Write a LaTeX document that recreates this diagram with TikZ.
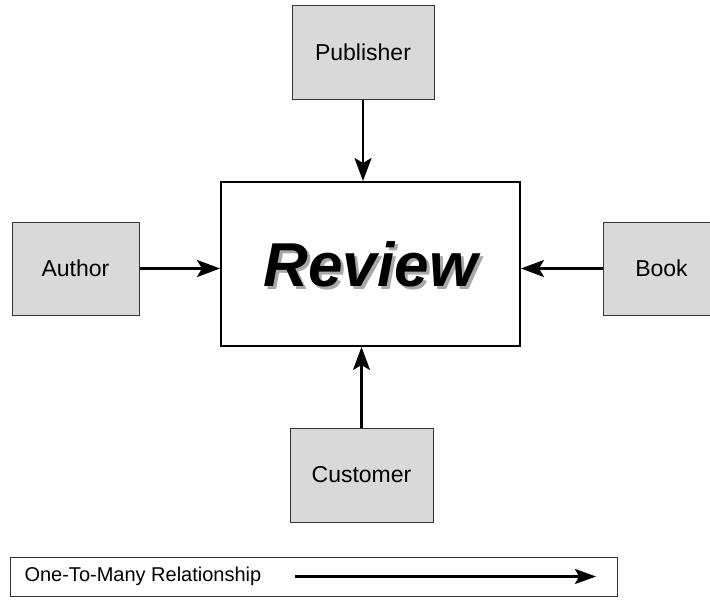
\documentclass[tikz,border=0pt]{standalone}
\usepackage{fontspec}
\setmainfont{Liberation Sans}
\usetikzlibrary{arrows.meta,positioning}
\definecolor{boxgray}{HTML}{D9D9D9}
\definecolor{shadowgray}{HTML}{A8A8A8}

\begin{document}
\begin{tikzpicture}[
  x=1pt, y=-1pt,
  entity/.style={draw=black!80, line width=1pt, fill=boxgray, font=\fontsize{23}{27}\selectfont},
  central/.style={draw, line width=2pt, fill=white, minimum width=299pt, minimum height=164pt},
  link/.style={line width=2.4pt, -{Stealth[length=23pt,width=17pt,inset=5pt]}},
  >={Latex}
]
\clip (0,0) rectangle (710,600);
\fill[white] (0,0) rectangle (710,600);

\node[central] (review) at (370.5,264) {};
\node[text=shadowgray, font=\fontsize{62}{70}\selectfont\bfseries\itshape] (shadow) at (373.5,267.5) {Review};
\node[font=\fontsize{62}{70}\selectfont\bfseries\itshape] (title) at (370.5,264.5) {Review};

\node[entity, minimum width=142pt, minimum height=94pt] (publisher) at (363,52) {Publisher};
\node[entity, minimum width=127pt, minimum height=93pt] (author) at (75.5,268.5) {Author};
\node[entity, minimum width=117pt, minimum height=93pt] (book) at (661.5,268.5) {Book};
\node[entity, minimum width=143pt, minimum height=94pt] (customer) at (361.5,475) {Customer};

\draw[link] (publisher) -- (publisher |- review.north);
\draw[link] (author) -- (review.west |- author);
\draw[link] (book) -- (review.east |- book);
\draw[link] (customer) -- (customer |- review.south);

% legend
\node[draw=black!80, line width=1pt, minimum width=607pt, minimum height=39pt] (legend) at (313.5,577) {};
\node[anchor=west, font=\fontsize{20}{24}\selectfont] (legendtext) at (21,576.5) {One-To-Many Relationship};
\coordinate (legendend) at (596,576.5);
\draw[link, line width=2.2pt, -{Stealth[length=21pt,width=15pt,inset=4pt]}] ([xshift=30pt]legendtext.east) -- (legendend);
\end{tikzpicture}
\end{document}
